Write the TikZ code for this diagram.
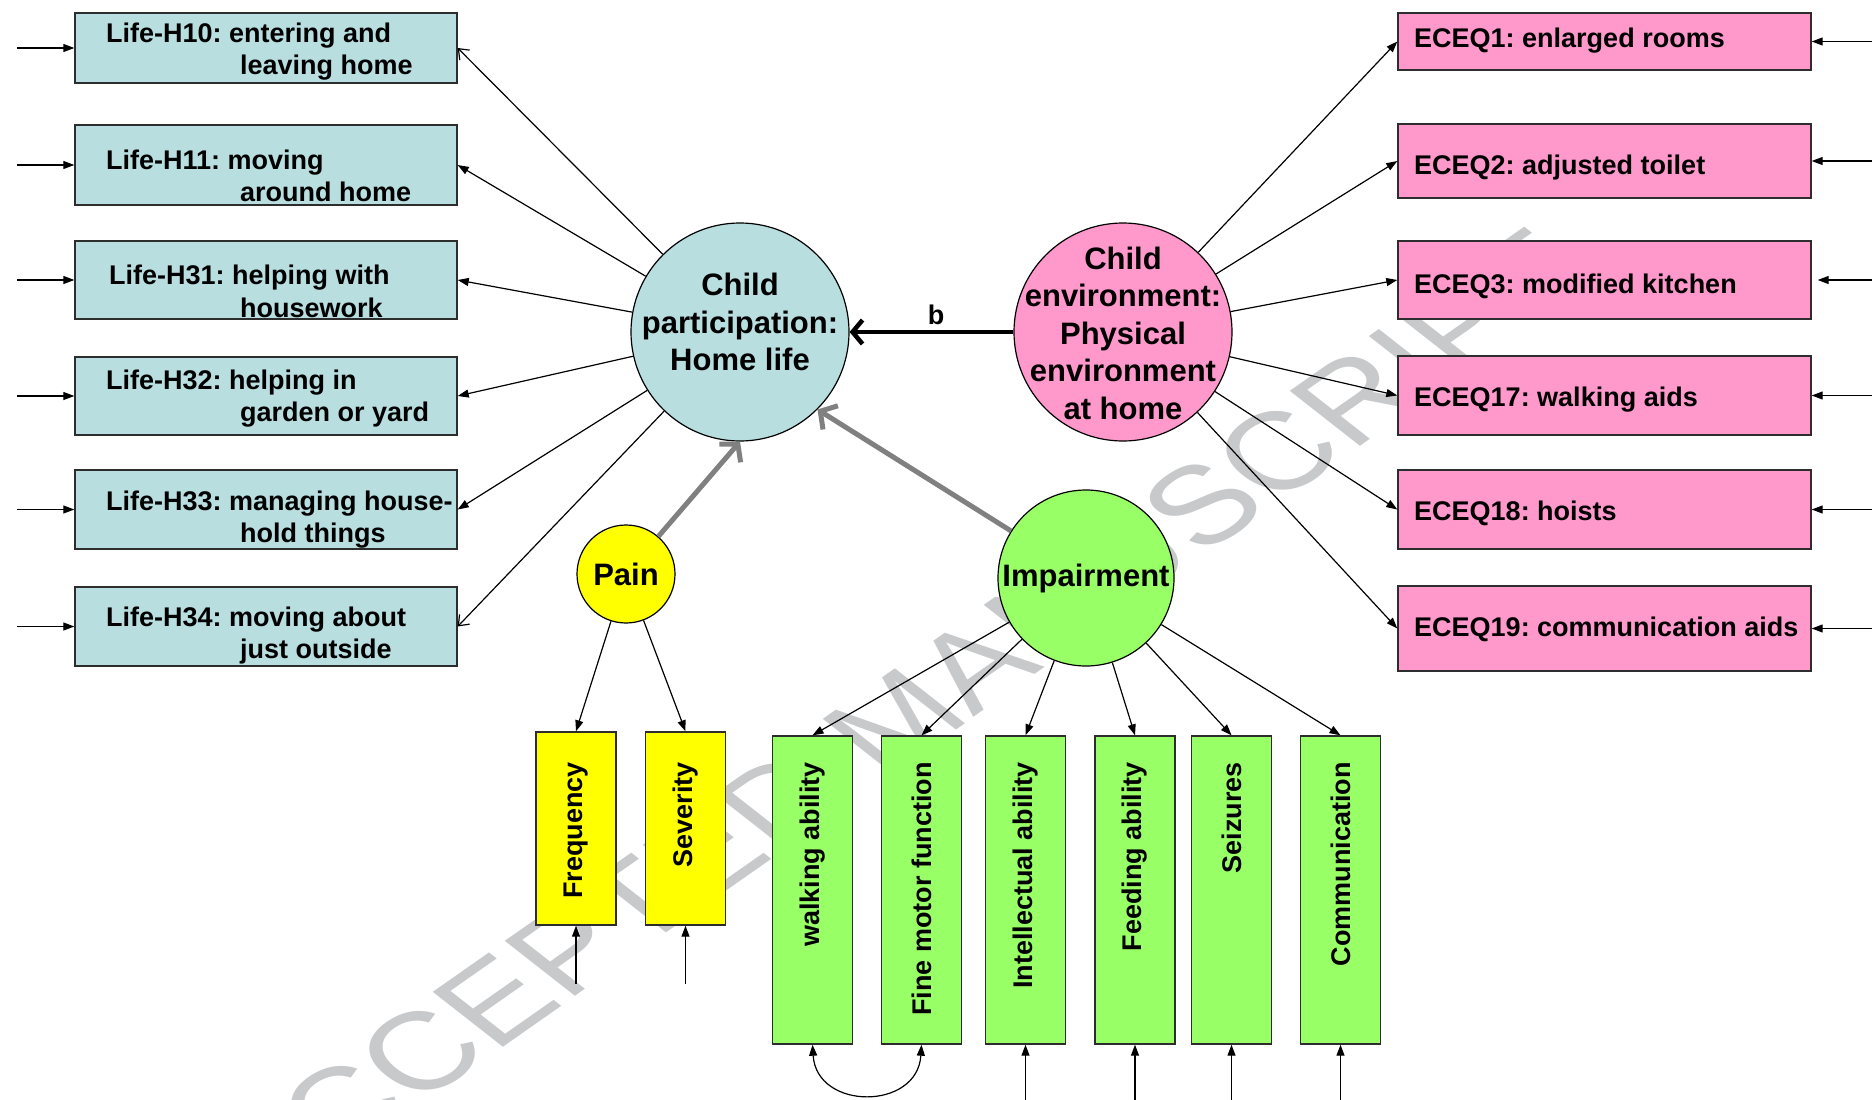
\documentclass[tikz,border=0pt]{standalone}
\usepackage{fontspec}
\setmainfont{Liberation Sans}
\usetikzlibrary{arrows.meta}
\definecolor{cteal}{RGB}{184,222,224}
\definecolor{cpink}{RGB}{255,153,204}
\definecolor{cyel}{RGB}{255,255,0}
\definecolor{cgreen}{RGB}{153,255,102}
\definecolor{cwm}{RGB}{200,201,203}
\definecolor{cborder}{RGB}{45,45,45}
\definecolor{cgray}{RGB}{128,128,128}
\frenchspacing
\begin{document}
\begin{tikzpicture}[x=1pt,y=-1pt,
  bx/.style={draw=cborder, line width=1.4pt, inner sep=0pt},
  lbox/.style={bx, fill=cteal, minimum width=382pt},
  rbox/.style={bx, fill=cpink, minimum width=413pt},
  ltxt/.style={anchor=west, align=left, inner sep=0pt, font=\bfseries\fontsize{27}{32.5}\selectfont},
  rtxt/.style={anchor=base west, inner sep=0pt, font=\bfseries\fontsize{27}{32}\selectfont},
  vbox/.style={bx, minimum width=80pt},
  vtxt/.style={rotate=90, anchor=east, inner sep=0pt, font=\bfseries\fontsize{27}{32}\selectfont},
  lat/.style={draw=black, circle, line width=1.2pt, inner sep=0pt, align=center, font=\bfseries\fontsize{31}{37.5}\selectfont},
  ctxt/.style={inner sep=0pt, align=center, font=\bfseries\fontsize{31}{37.5}\selectfont},
  ln/.style={line width=1.2pt, -{Triangle[length=11pt,width=8pt]}},
  lnopen/.style={line width=1.2pt, -{Straight Barb[length=9pt,width=14pt]}},
  gar/.style={line width=5pt, draw=cgray, -{Straight Barb[length=12pt,width=28pt]}},
  bar/.style={line width=4.5pt, draw=black, -{Straight Barb[length=10pt,width=24pt]}},
  wm/.style={rotate=43.4, transform shape, inner sep=0pt, text=cwm, font=\fontsize{110}{110}\selectfont}
]
\useasboundingbox (0,0) rectangle (1872,1100);
% watermark
\begin{scope}[xscale=1.35]
  \node[wm] (wmark) at (897/1.35,719) {ACCEPTED MANUSCRIPT};
\end{scope}

% left boxes
\node[lbox, minimum height=70pt] (h10) at (266,48) {};
\node[lbox, minimum height=80pt] (h11) at (266,165) {};
\node[lbox, minimum height=78pt] (h31) at (266,280) {};
\node[lbox, minimum height=78pt] (h32) at (266,396) {};
\node[lbox, minimum height=79pt] (h33) at (266,509.5) {};
\node[lbox, minimum height=79pt] (h34) at (266,626.5) {};
\node[ltxt] (h10t) at (106,51.5) {Life-H10: entering and\\\hspace*{134pt}leaving home};
\node[ltxt] (h11t) at (106,176) {Life-H11: moving\\\hspace*{134pt}around home};
\node[ltxt] (h31t) at (109,291.5) {Life-H31: helping with\\\hspace*{131pt}housework};
\node[ltxt] (h32t) at (106,398.5) {Life-H32: helping in\\\hspace*{134pt}garden or yard};
\node[ltxt] (h33t) at (106,519.5) {Life-H33: managing house-\\\hspace*{134pt}hold things};
\node[ltxt] (h34t) at (106,635.5) {Life-H34: moving about\\\hspace*{134pt}just outside};

% right boxes
\node[rbox, minimum height=57pt] (e1) at (1604.5,41.5) {};
\node[rbox, minimum height=74pt] (e2) at (1604.5,161) {};
\node[rbox, minimum height=78pt] (e3) at (1604.5,280) {};
\node[rbox, minimum height=79pt] (e17) at (1604.5,395.5) {};
\node[rbox, minimum height=79pt] (e18) at (1604.5,509.5) {};
\node[rbox, minimum height=85pt] (e19) at (1604.5,628.5) {};
\node[rtxt] (e1t) at (1414,47) {ECEQ1: enlarged rooms};
\node[rtxt] (e2t) at (1414,174) {ECEQ2: adjusted toilet};
\node[rtxt] (e3t) at (1414,293) {ECEQ3: modified kitchen};
\node[rtxt] (e17t) at (1414,406) {ECEQ17: walking aids};
\node[rtxt] (e18t) at (1414,520) {ECEQ18: hoists};
\node[rtxt] (e19t) at (1414,636) {ECEQ19: communication aids};

% latent variables
\node[lat, fill=cteal, minimum size=218pt] (P) at (740,332) {};
\node[ctxt] (Pt) at (740,322) {Child\\participation:\\Home life};
\node[lat, fill=cpink, minimum size=218pt] (E) at (1123,332) {};
\node[ctxt] (Et) at (1123,333) {Child\\environment:\\Physical\\environment\\at home};
\node[lat, fill=cyel, minimum size=98pt] (pain) at (626,574) {Pain};
\node[lat, fill=cgreen, minimum size=176pt] (imp) at (1086,578) {Impairment};

% vertical indicator boxes
\node[vbox, fill=cyel, minimum height=193pt] (fre) at (576,828.5) {};
\node[vbox, fill=cyel, minimum height=193pt] (sev) at (685.5,828.5) {};
\node[vbox, fill=cgreen, minimum height=308pt] (walk) at (812.5,890) {};
\node[vbox, fill=cgreen, minimum height=308pt] (fine) at (921.5,890) {};
\node[vbox, fill=cgreen, minimum height=308pt] (intel) at (1025.5,890) {};
\node[vbox, fill=cgreen, minimum height=308pt] (feed) at (1135,890) {};
\node[vbox, fill=cgreen, minimum height=308pt] (seiz) at (1231.5,890) {};
\node[vbox, fill=cgreen, minimum height=308pt] (comm) at (1340.5,890) {};
\node[vtxt] (fret) at (576,762) {Frequency};
\node[vtxt] (sevt) at (685.5,762) {Severity};
\node[vtxt] (walkt) at (812.5,762) {walking ability};
\node[vtxt] (finet) at (921.5,762) {Fine motor function};
\node[vtxt] (intelt) at (1025.5,762) {Intellectual ability};
\node[vtxt] (feedt) at (1135,762) {Feeding ability};
\node[vtxt] (seizt) at (1231.5,762) {Seizures};
\node[vtxt] (commt) at (1340.5,762) {Communication};

% loadings: participation
\draw[lnopen] (P) -- (h10.east);
\foreach \n in {h11,h31,h32,h33} \draw[ln] (P) -- (\n.east);
\draw[lnopen] (P) -- (h34.east);
% loadings: environment
\foreach \n in {e1,e2,e3,e17,e18,e19} \draw[ln] (E) -- (\n.west);
% loadings: pain, impairment
\foreach \n in {fre,sev} \draw[ln] (pain) -- (\n.north);
\foreach \n in {walk,fine,intel,feed,seiz,comm} \draw[ln] (imp) -- (\n.north);

% structural paths
\draw[bar] (E) -- (P);
\node[inner sep=0pt, font=\bfseries\fontsize{27}{32}\selectfont] (blab) at (936,315) {b};
\draw[gar] (pain) -- (P.south);
\draw[gar] (imp) -- (P.-45);

% error terms
\foreach \n in {h10,h11,h31,h32,h33,h34} {
  \path (\n.west) ++(-57,0) coordinate (\n-in);
  \draw[ln] (\n-in) -- (\n.west);
}
\foreach \n in {e1,e2,e17,e18,e19} {
  \path (\n.east) ++(61,0) coordinate (\n-in);
  \draw[ln] (\n-in) -- (\n.east);
}
\path (e3.east) ++(61,0) coordinate (e3-in);
\draw[ln] (e3-in) -- ([xshift=6pt]e3.east);
\foreach \n in {fre,sev} {
  \path (\n.south) ++(0,58) coordinate (\n-in);
  \draw[ln] (\n-in) -- (\n.south);
}
\foreach \n in {intel,feed,seiz,comm} {
  \path (\n.south) ++(0,56) coordinate (\n-in);
  \draw[ln] (\n-in) -- (\n.south);
}
% correlation
\draw[line width=1.2pt, {Triangle[length=11pt,width=8pt]}-{Triangle[length=11pt,width=8pt]}]
  (walk.south) .. controls +(4,66) and +(-4,66) .. (fine.south);
\end{tikzpicture}
\end{document}
